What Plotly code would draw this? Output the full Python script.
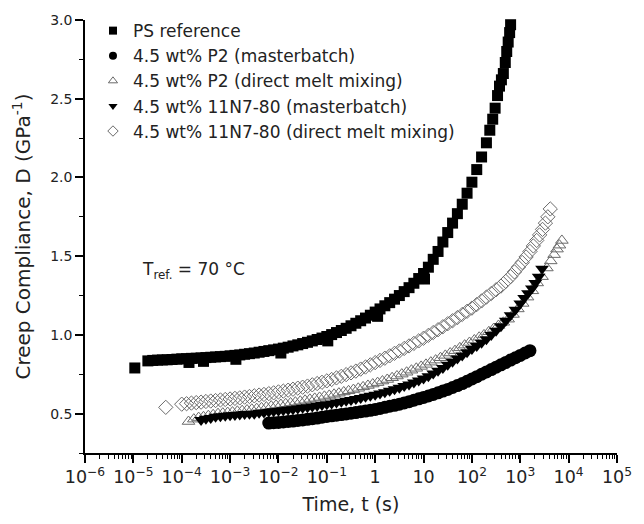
import plotly.graph_objects as go

# ---- data: (log10 of time t in s, creep compliance D in GPa^-1) ----
ps_ref = [(-4.97, .79), (-4.7, .835), (-4.6, .838), (-4.5, .840), (-4.4, .841), (-4.3, .842),
          (-4.2, .844), (-4.1, .846), (-4.0, .848), (-3.9, .849), (-3.85, .825), (-3.8, .851),
          (-3.7, .852), (-3.6, .854), (-3.55, .832), (-3.5, .856), (-3.4, .858), (-3.3, .86),
          (-3.2, .862), (-3.1, .864), (-3.0, .867), (-2.9, .87), (-2.88, .845), (-2.8, .873),
          (-2.7, .877), (-2.6, .881), (-2.5, .885), (-2.4, .89), (-2.3, .895), (-2.2, .90),
          (-2.1, .905), (-2.0, .91), (-1.95, .885), (-1.9, .916), (-1.8, .922), (-1.7, .93),
          (-1.6, .937), (-1.5, .945), (-1.4, .953), (-1.3, .962), (-1.2, .971), (-1.1, .98),
          (-1.0, .99), (-0.98, .962), (-0.9, 1.002), (-0.8, 1.015), (-0.7, 1.028), (-0.6, 1.042),
          (-0.5, 1.058), (-0.4, 1.074), (-0.3, 1.09), (-0.2, 1.107), (-0.1, 1.125), (0.0, 1.145),
          (0.05, 1.118), (0.1, 1.165), (0.2, 1.185), (0.3, 1.205), (0.4, 1.227), (0.5, 1.25),
          (0.6, 1.275), (0.7, 1.30), (0.8, 1.328), (0.9, 1.358), (1.0, 1.39), (1.02, 1.355),
          (1.1, 1.43), (1.2, 1.48), (1.3, 1.53), (1.4, 1.59), (1.5, 1.65), (1.6, 1.71),
          (1.7, 1.77), (1.8, 1.83), (1.9, 1.90), (2.0, 1.97), (2.1, 2.05), (2.2, 2.13),
          (2.3, 2.22), (2.37, 2.30), (2.43, 2.37), (2.48, 2.44), (2.53, 2.52), (2.57, 2.58),
          (2.61, 2.62), (2.65, 2.66), (2.69, 2.73), (2.72, 2.80), (2.75, 2.86), (2.78, 2.92),
          (2.80, 2.97)]

p2_masterbatch = [(-2.2, .44), (-2.1, .442), (-2.0, .444), (-1.9, .447), (-1.8, .45), (-1.7, .453),
                  (-1.6, .457), (-1.5, .46), (-1.4, .464), (-1.3, .468), (-1.2, .472), (-1.1, .477),
                  (-1.0, .482), (-0.9, .486), (-0.8, .49), (-0.7, .494), (-0.6, .498), (-0.5, .503),
                  (-0.4, .507), (-0.3, .512), (-0.2, .516), (-0.1, .521), (0.0, .527), (0.1, .533),
                  (0.2, .54), (0.3, .547), (0.4, .553), (0.5, .56), (0.6, .568), (0.7, .576),
                  (0.8, .585), (0.9, .594), (1.0, .603), (1.1, .612), (1.2, .622), (1.3, .632),
                  (1.4, .643), (1.5, .654), (1.6, .666), (1.7, .678), (1.8, .691), (1.9, .705),
                  (2.0, .72), (2.1, .735), (2.2, .75), (2.3, .765), (2.4, .78), (2.5, .795),
                  (2.6, .81), (2.7, .825), (2.8, .84), (2.9, .855), (3.0, .87), (3.1, .885),
                  (3.2, .90)]

p2_direct = [(-3.86, .45), (-3.75, .465), (-3.65, .475), (-3.55, .48), (-3.45, .487), (-3.35, .493),
             (-3.25, .50), (-3.15, .503), (-3.05, .507), (-2.95, .51), (-2.85, .515), (-2.75, .519),
             (-2.65, .523), (-2.55, .528), (-2.45, .532), (-2.35, .537), (-2.25, .542), (-2.15, .548),
             (-2.05, .553), (-1.95, .558), (-1.85, .563), (-1.75, .568), (-1.65, .573), (-1.55, .579),
             (-1.45, .585), (-1.35, .591), (-1.25, .597), (-1.15, .603), (-1.05, .61), (-0.95, .616),
             (-0.85, .623), (-0.75, .63), (-0.65, .638), (-0.55, .645), (-0.45, .653), (-0.35, .661),
             (-0.25, .67), (-0.15, .679), (-0.05, .688), (0.05, .697), (0.15, .707), (0.25, .717),
             (0.35, .728), (0.45, .739), (0.55, .751), (0.65, .763), (0.75, .776), (0.85, .788),
             (0.95, .80), (1.05, .813), (1.15, .827), (1.25, .84), (1.35, .855), (1.45, .87),
             (1.55, .885), (1.65, .90), (1.75, .918), (1.85, .935), (1.95, .952), (2.05, .968),
             (2.15, .985), (2.25, 1.0), (2.35, 1.02), (2.45, 1.04), (2.55, 1.06), (2.65, 1.08),
             (2.75, 1.10), (2.85, 1.13), (2.95, 1.165), (3.05, 1.20), (3.15, 1.24), (3.25, 1.28),
             (3.35, 1.33), (3.45, 1.37), (3.55, 1.425), (3.63, 1.47), (3.70, 1.51), (3.76, 1.545),
             (3.81, 1.57), (3.86, 1.60)]

n7_masterbatch = [(-3.6, .46), (-3.5, .467), (-3.4, .473), (-3.3, .48), (-3.2, .483), (-3.1, .487),
                  (-3.0, .49), (-2.9, .492), (-2.8, .495), (-2.7, .497), (-2.6, .499), (-2.5, .50),
                  (-2.4, .505), (-2.3, .508), (-2.2, .512), (-2.1, .515), (-2.0, .518), (-1.9, .522),
                  (-1.8, .525), (-1.7, .528), (-1.6, .532), (-1.5, .537), (-1.4, .541), (-1.3, .545),
                  (-1.2, .55), (-1.1, .555), (-1.0, .56), (-0.9, .565), (-0.8, .57), (-0.7, .576),
                  (-0.6, .582), (-0.5, .587), (-0.4, .593), (-0.3, .60), (-0.2, .607), (-0.1, .613),
                  (0.0, .62), (0.1, .628), (0.2, .636), (0.3, .645), (0.4, .655), (0.5, .665),
                  (0.6, .675), (0.7, .685), (0.8, .697), (0.9, .71), (1.0, .723), (1.1, .738),
                  (1.2, .755), (1.3, .772), (1.4, .79), (1.5, .81), (1.6, .83), (1.7, .85),
                  (1.8, .87), (1.9, .89), (2.0, .91), (2.1, .93), (2.2, .95), (2.3, .972),
                  (2.4, 1.0), (2.5, 1.027), (2.6, 1.055), (2.7, 1.09), (2.8, 1.125), (2.9, 1.16),
                  (3.0, 1.20), (3.08, 1.235), (3.16, 1.265), (3.24, 1.295), (3.31, 1.33),
                  (3.38, 1.37), (3.45, 1.42)]

n7_direct = [(-4.33, .54), (-4.0, .56), (-3.9, .563), (-3.8, .567), (-3.7, .57), (-3.6, .573),
             (-3.5, .577), (-3.4, .58), (-3.3, .583), (-3.2, .587), (-3.1, .59), (-3.0, .593),
             (-2.9, .597), (-2.8, .60), (-2.7, .605), (-2.6, .609), (-2.5, .613), (-2.4, .618),
             (-2.3, .622), (-2.2, .627), (-2.1, .632), (-2.0, .638), (-1.9, .643), (-1.8, .649),
             (-1.7, .655), (-1.6, .662), (-1.5, .668), (-1.4, .675), (-1.3, .683), (-1.2, .691),
             (-1.1, .699), (-1.0, .708), (-0.9, .717), (-0.8, .727), (-0.7, .737), (-0.6, .748),
             (-0.5, .759), (-0.4, .77), (-0.3, .783), (-0.2, .796), (-0.1, .81), (0.0, .824),
             (0.1, .838), (0.2, .852), (0.3, .867), (0.4, .883), (0.5, .898), (0.6, .914),
             (0.7, .93), (0.8, .946), (0.9, .962), (1.0, .979), (1.1, .997), (1.2, 1.015),
             (1.3, 1.033), (1.4, 1.052), (1.5, 1.071), (1.6, 1.09), (1.7, 1.11), (1.8, 1.13),
             (1.9, 1.15), (2.0, 1.17), (2.1, 1.193), (2.2, 1.216), (2.3, 1.24), (2.4, 1.263),
             (2.5, 1.287), (2.6, 1.31), (2.7, 1.34), (2.8, 1.37), (2.88, 1.40), (2.96, 1.43),
             (3.04, 1.46), (3.12, 1.495), (3.2, 1.53), (3.27, 1.565), (3.34, 1.60), (3.4, 1.635),
             (3.46, 1.67), (3.52, 1.71), (3.57, 1.75), (3.62, 1.80)]

series_names = ["PS reference", "4.5 wt% P2 (masterbatch)", "4.5 wt% P2 (direct melt mixing)",
                "4.5 wt% 11N7-80 (masterbatch)", "4.5 wt% 11N7-80 (direct melt mixing)"]

FONT = "DejaVu Sans"

fig = go.Figure()


def add(pairs, name, symbol, color, size, lw=0):
    # data trace (legend entry drawn by a small-marker proxy so legend symbols stay small)
    fig.add_trace(go.Scatter(
        x=[10 ** p[0] for p in pairs], y=[p[1] for p in pairs], name=name, mode="markers",
        cliponaxis=False, showlegend=False, legendgroup=name,
        marker=dict(symbol=symbol, color=color, size=size,
                    line=dict(width=lw, color=color))))
    fig.add_trace(go.Scatter(
        x=[None], y=[None], name=name, mode="markers", legendgroup=name,
        marker=dict(symbol=symbol, color=color, size=8,
                    line=dict(width=lw, color=color))))


add(ps_ref, series_names[0], "square", "black", 11)
add(p2_masterbatch, series_names[1], "circle", "black", 13)
add(p2_direct, series_names[2], "triangle-up-open", "#6a6a6a", 11, 1)
add(n7_masterbatch, series_names[3], "triangle-down", "black", 12)
add(n7_direct, series_names[4], "diamond-open", "#6a6a6a", 11, 1)

fig.add_annotation(x=-4.86, y=1.41, xref="x", yref="y", xanchor="left", yanchor="middle",
                   text="T<sub>ref.</sub> = 70 °C", showarrow=False,
                   font=dict(family=FONT, size=17, color="#222"))

axis_common = dict(showline=True, linecolor="black", linewidth=1.5, ticks="outside",
                   ticklen=8, tickwidth=1.5, tickcolor="black", showgrid=False, zeroline=False,
                   mirror=False, tickfont=dict(family=FONT, size=14, color="#222"))

fig.update_xaxes(type="log", range=[-6, 5], dtick=1, exponentformat="power",
                 minor=dict(ticks="outside", ticklen=4, tickwidth=1, tickcolor="black",
                            showgrid=False),
                 title=dict(text="Time, t (s)", font=dict(family=FONT, size=19, color="#222"),
                            standoff=12),
                 **axis_common)
fig.update_yaxes(range=[0.25, 3.0], tick0=0.5, dtick=0.5, tickformat=".1f",
                 minor=dict(dtick=0.25, ticks="outside", ticklen=4, tickwidth=1,
                            tickcolor="black", showgrid=False),
                 title=dict(text="Creep Compliance, D (GPa<sup>-1</sup>)",
                            font=dict(family=FONT, size=20, color="#222"), standoff=14),
                 **axis_common)

fig.update_layout(
    width=644, height=524,
    margin=dict(l=85, r=19, t=16, b=68),
    paper_bgcolor="white", plot_bgcolor="white",
    showlegend=True,
    legend=dict(x=0.015, y=1.016, xanchor="left", yanchor="top", bgcolor="rgba(0,0,0,0)",
                font=dict(family=FONT, size=17, color="#222"), tracegroupgap=0),
)

fig.write_html("out.html")
